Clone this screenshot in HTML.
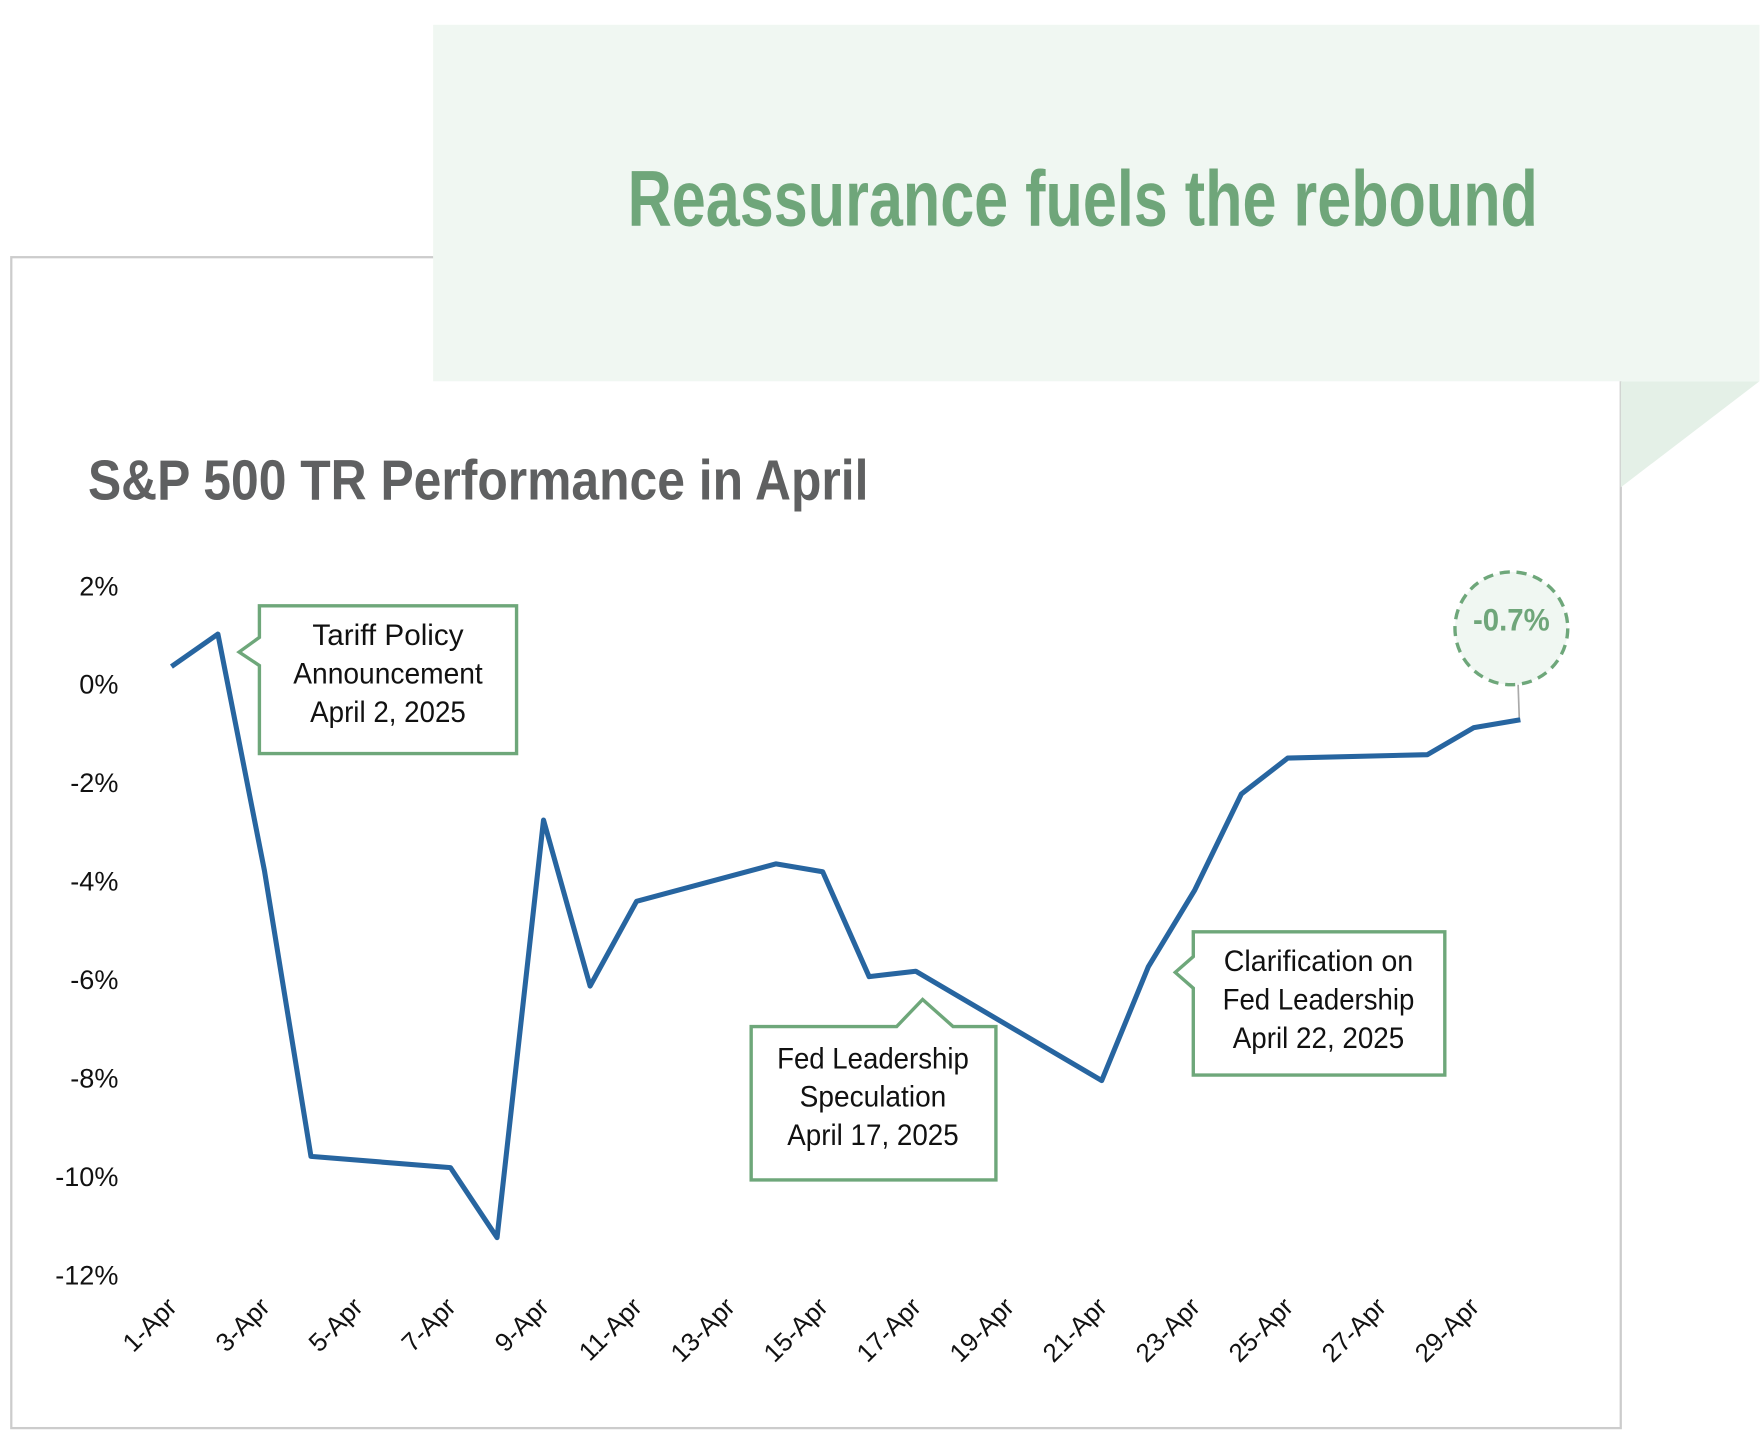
<!DOCTYPE html>
<html><head><meta charset="utf-8"><style>
html,body{margin:0;padding:0;background:#fff;}
svg{display:block;}
text{font-family:"Liberation Sans Narrow","Liberation Sans",sans-serif;}
</style></head><body>
<svg id="chart" width="1764" height="1436" viewBox="0 0 1564 1273" preserveAspectRatio="none" xmlns="http://www.w3.org/2000/svg">
  <rect x="10" y="228" width="1427" height="1038" fill="#fff" stroke="#cccccc" stroke-width="2"/>
  <polygon points="1437,338 1560,338 1437,432" fill="#e4f0e7"/>
  <rect x="384" y="22" width="1176" height="316" fill="#f0f7f2"/>
  <text x="960" y="200" text-anchor="middle" font-size="70" font-weight="bold" fill="#6fa67a" textLength="807" lengthAdjust="spacingAndGlyphs">Reassurance fuels the rebound</text>
  <text x="78" y="443" font-size="50" font-weight="bold" fill="#5f6061" textLength="692" lengthAdjust="spacingAndGlyphs">S&amp;P 500 TR Performance in April</text>
  <g id="yaxis"></g>
  <g id="xaxis"></g>
  <path id="line" fill="none" stroke="#2765a0" stroke-width="4.5" stroke-linejoin="round"/>

  <g>
    <path d="M230,537 H458 V668 H230 V590 L212,578 L230,565 Z" fill="#fff" stroke="#6ea77a" stroke-width="3"/>
    <text x="344" y="572" text-anchor="middle" font-size="26" fill="#111" textLength="134" lengthAdjust="spacingAndGlyphs">Tariff Policy</text>
    <text x="344" y="606" text-anchor="middle" font-size="26" fill="#111" textLength="168" lengthAdjust="spacingAndGlyphs">Announcement</text>
    <text x="344" y="640" text-anchor="middle" font-size="26" fill="#111" textLength="138" lengthAdjust="spacingAndGlyphs">April 2, 2025</text>
  </g>
  <g>
    <path d="M666,910 H795 L818,886 L845,910 H883 V1046 H666 Z" fill="#fff" stroke="#6ea77a" stroke-width="3"/>
    <text x="774" y="947" text-anchor="middle" font-size="26" fill="#111" textLength="170" lengthAdjust="spacingAndGlyphs">Fed Leadership</text>
    <text x="774" y="981" text-anchor="middle" font-size="26" fill="#111" textLength="130" lengthAdjust="spacingAndGlyphs">Speculation</text>
    <text x="774" y="1015" text-anchor="middle" font-size="26" fill="#111" textLength="152" lengthAdjust="spacingAndGlyphs">April 17, 2025</text>
  </g>
  <g>
    <path d="M1058,826 H1281 V953 H1058 V876 L1042,862 L1058,848 Z" fill="#fff" stroke="#6ea77a" stroke-width="3"/>
    <text x="1169" y="861" text-anchor="middle" font-size="26" fill="#111" textLength="168" lengthAdjust="spacingAndGlyphs">Clarification on</text>
    <text x="1169" y="895" text-anchor="middle" font-size="26" fill="#111" textLength="170" lengthAdjust="spacingAndGlyphs">Fed Leadership</text>
    <text x="1169" y="929" text-anchor="middle" font-size="26" fill="#111" textLength="152" lengthAdjust="spacingAndGlyphs">April 22, 2025</text>
  </g>
  <g>
    <line x1="1346" y1="607" x2="1347" y2="636" stroke="#aaa" stroke-width="1.5"/>
    <circle cx="1340" cy="557" r="50" fill="#f0f7f2" stroke="#6ea77a" stroke-width="3" stroke-dasharray="9,6"/>
    <text x="1340" y="559" text-anchor="middle" font-size="28" font-weight="bold" fill="#6fa67a" textLength="68" lengthAdjust="spacingAndGlyphs">-0.7%</text>
  </g>
</svg>
<script>
const days = [1,2,3,4,7,8,9,10,11,14,15,16,17,21,22,23,24,25,28,29,30];
const values = [0.37,1.03,-3.78,-9.58,-9.81,-11.23,-2.75,-6.12,-4.40,-3.64,-3.80,-5.93,-5.82,-8.04,-5.73,-4.17,-2.22,-1.49,-1.42,-0.87,-0.71];
const yTicks = [2,0,-2,-4,-6,-8,-10,-12];
const xTickDays = [1,3,5,7,9,11,13,15,17,19,21,23,25,27,29];

const NS = "http://www.w3.org/2000/svg";
function xScale(d){ return 152 + (d-1)*(1348-152)/29; }
function yScale(v){ return 607 - v*43.64; }

const yg = document.getElementById('yaxis');
yTicks.forEach(v=>{
  const t = document.createElementNS(NS,'text');
  
  
  t.setAttribute('x',105); t.setAttribute('y',yScale(v)+8);
  t.setAttribute('text-anchor','end'); t.setAttribute('font-size','24'); t.setAttribute('fill','#111');
  t.textContent = v + '%';
  yg.appendChild(t);
});
const xg = document.getElementById('xaxis');
xTickDays.forEach(d=>{
  const t = document.createElementNS(NS,'text');
  
  
  const x = xScale(d)+6, y = 1160;
  t.setAttribute('x',x); t.setAttribute('y',y);
  t.setAttribute('text-anchor','end'); t.setAttribute('font-size','23'); t.setAttribute('fill','#111');
  t.setAttribute('transform','rotate(-45 '+x+' '+y+')');
  t.textContent = d + '-Apr';
  xg.appendChild(t);
});
document.getElementById('line').setAttribute('d', days.map((d,i)=>(i?'L':'M')+xScale(d).toFixed(1)+','+yScale(values[i]).toFixed(1)).join(' '));
</script>
</body></html>
